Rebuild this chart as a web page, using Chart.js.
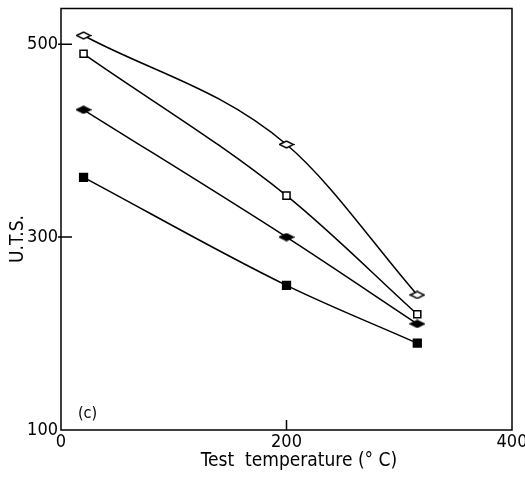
<!DOCTYPE html>
<html>
<head>
<meta charset="utf-8">
<script src="https://cdn.jsdelivr.net/npm/chart.js@4/dist/chart.umd.min.js"></script>
<style>
  html, body { margin: 0; padding: 0; background: #fff; }
  #wrap { width: 525px; height: 480px; }
</style>
</head>
<body>
<div id="wrap"><canvas id="uts"></canvas></div>
<script>
// test temperatures (°C)
const temps = [20, 200, 316];
// U.T.S. for each of the four alloys / conditions
const openDiamond = [509, 396, 240];
const openSquare = [490, 343, 220];
const filledDiamond = [432, 300, 210];
const filledSquare = [362, 250, 190];

const xTicks = [0, 200, 400];
const yTicks = [100, 300, 500];

const xTitle = 'Test  temperature (° C)';
const yTitle = 'U.T.S.';

const FONT = "'DejaVu Sans', sans-serif";

// flattened diamond marker
function diamond(filled) {
  const c = document.createElement('canvas');
  c.width = 16; c.height = 9;
  const g = c.getContext('2d');
  g.beginPath();
  g.moveTo(1, 4.5); g.lineTo(8, 1); g.lineTo(15, 4.5); g.lineTo(8, 8); g.closePath();
  g.fillStyle = filled ? '#000' : '#fff';
  g.fill();
  g.lineWidth = 1.5;
  g.strokeStyle = '#000';
  g.stroke();
  return c;
}

function series(data, style, fill, radius) {
  return {
    data: temps.map((t, i) => ({ x: t, y: data[i] })),
    borderColor: '#000',
    borderWidth: 1.5,
    pointStyle: style,
    pointRadius: radius,
    pointBackgroundColor: fill,
    pointBorderColor: '#000',
    pointBorderWidth: 1.5,
    cubicInterpolationMode: 'monotone',
    fill: false
  };
}

// frame, inward ticks, axis titles and the (c) label
const framePlugin = {
  id: 'frame',
  afterDraw(chart) {
    const { ctx, chartArea: a, scales } = chart;
    ctx.save();
    ctx.strokeStyle = '#000';
    ctx.lineWidth = 1.5;
    ctx.strokeRect(a.left, a.top, a.right - a.left, a.bottom - a.top);
    ctx.beginPath();
    yTicks.slice(1).forEach(v => {
      const y = scales.y.getPixelForValue(v);
      ctx.moveTo(a.left - 3, y); ctx.lineTo(a.left + 11, y);
    });
    xTicks.slice(1, -1).forEach(v => {
      const x = scales.x.getPixelForValue(v);
      ctx.moveTo(x, a.bottom); ctx.lineTo(x, a.bottom - 10);
    });
    ctx.stroke();
    ctx.fillStyle = '#000';
    ctx.font = 'condensed 16px ' + FONT;
    ctx.textAlign = 'left';
    ctx.textBaseline = 'alphabetic';
    ctx.fillText('(c)', a.left + 17, a.bottom - 12);

    ctx.font = 'condensed 19px ' + FONT;
    ctx.textAlign = 'center';
    ctx.textBaseline = 'middle';
    ctx.fillText(xTitle, 299, 461);
    ctx.translate(18, 239);
    ctx.rotate(-Math.PI / 2);
    ctx.fillText(yTitle, 0, 0);
    ctx.restore();
  }
};

new Chart(document.getElementById('uts'), {
  type: 'line',
  data: {
    datasets: [
      series(openDiamond, diamond(false), '#fff', 7),
      series(openSquare, 'rect', '#fff', 5),
      series(filledDiamond, diamond(true), '#000', 7),
      series(filledSquare, 'rect', '#000', 5.5)
    ]
  },
  options: {
    responsive: true,
    maintainAspectRatio: false,
    animation: false,
    layout: { padding: { top: 8, right: 13, left: 0, bottom: 0 } },
    plugins: { legend: { display: false }, tooltip: { enabled: false } },
    scales: {
      x: {
        type: 'linear',
        min: 0,
        max: 400,
        afterBuildTicks: s => { s.ticks = xTicks.map(v => ({ value: v })); },
        afterFit: s => { s.height = 50; s.paddingLeft = 0; s.paddingRight = 0; },
        grid: { display: false, drawTicks: false },
        border: { display: false },
        ticks: { color: '#000', padding: 2, font: { family: FONT, size: 18, weight: 'condensed' } }
      },
      y: {
        min: 100,
        max: 537,
        afterBuildTicks: s => { s.ticks = yTicks.map(v => ({ value: v })); },
        afterFit: s => { s.width = 61; s.paddingTop = 0; s.paddingBottom = 0; },
        grid: { display: false, drawTicks: false },
        border: { display: false },
        ticks: { color: '#000', padding: 3, font: { family: FONT, size: 18, weight: 'condensed' } }
      }
    }
  },
  plugins: [framePlugin]
});
</script>
</body>
</html>
